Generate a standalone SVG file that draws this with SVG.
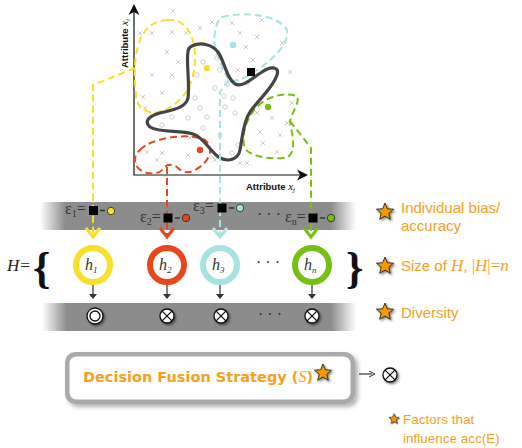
<svg xmlns="http://www.w3.org/2000/svg" width="522" height="448" viewBox="0 0 522 448">
<defs>
<style>
.ax{stroke:#111;stroke-width:1.2;fill:none}
.sc{stroke:#c8c8c8;stroke-width:0.9;fill:none}
.blob{fill:none;stroke-width:2;stroke-dasharray:7 4}
.con{fill:none;stroke-width:2;stroke-dasharray:7 4}
.chev{fill:none;stroke-width:3;stroke-linecap:butt;stroke-linejoin:miter}
.ring{fill:#fff;stroke-width:6}
.hl{font-family:"Liberation Serif",serif;font-style:italic;font-size:16px;fill:#333}
.eps{font-family:"Liberation Serif",serif;font-size:16px;fill:#333}
.lab{font-family:"Liberation Sans",Arial,sans-serif;font-size:15px;fill:#f7a01e}
.ser{font-family:"Liberation Serif",serif;font-style:italic}
.sm{stroke:#333;stroke-width:1.2;fill:none}
.ox{fill:#fff;stroke:#111;stroke-width:1.3}
.star{fill:#f79a00;stroke:#222;stroke-width:0.9;stroke-linejoin:round}
</style>
<symbol id="x" overflow="visible"><path class="sc" d="M-2.2,-2.2 L2.2,2.2 M2.2,-2.2 L-2.2,2.2"/></symbol>
<symbol id="o" overflow="visible"><circle class="sc" r="2.2"/></symbol>
<path id="starp" d="M0,-9 L2.35,-3.24 L8.56,-2.78 L3.80,1.24 L5.29,7.28 L0,4 L-5.29,7.28 L-3.80,1.24 L-8.56,-2.78 L-2.35,-3.24 Z"/>
<filter id="sh" x="-50%" y="-50%" width="200%" height="200%"><feDropShadow dx="1.5" dy="1.5" stdDeviation="1" flood-color="#000" flood-opacity="0.5"/></filter>
<filter id="bsh" x="-10%" y="-20%" width="120%" height="150%"><feDropShadow dx="3" dy="3" stdDeviation="2" flood-color="#000" flood-opacity="0.3"/></filter>
<linearGradient id="band" x1="0" x2="1" y1="0" y2="0">
<stop offset="0" stop-color="#8c8c8c" stop-opacity="0"/>
<stop offset="0.08" stop-color="#8c8c8c"/>
<stop offset="0.92" stop-color="#8c8c8c"/>
<stop offset="1" stop-color="#8c8c8c" stop-opacity="0"/>
</linearGradient>
<symbol id="otimes" overflow="visible"><circle class="ox" r="7"/><path d="M-4.9,-4.9 L4.9,4.9 M4.9,-4.9 L-4.9,4.9" stroke="#111" stroke-width="1.3"/></symbol>
</defs>

<g id="bands">
<rect x="40" y="202" width="316" height="28" fill="url(#band)"/>
<rect x="42" y="303" width="314" height="28" fill="url(#band)"/>
</g>

<g id="scatter">
<use href="#x" x="173" y="11"/><use href="#x" x="140" y="33"/><use href="#x" x="152" y="33"/>
<use href="#x" x="172" y="32"/><use href="#x" x="167" y="52"/><use href="#x" x="178" y="62"/>
<use href="#x" x="152" y="75"/><use href="#x" x="172" y="75"/><use href="#x" x="143" y="97"/>
<use href="#x" x="162" y="93"/><use href="#x" x="145" y="108"/><use href="#x" x="200" y="28"/>
<use href="#x" x="232" y="23"/><use href="#x" x="240" y="33"/><use href="#x" x="262" y="20"/>
<use href="#x" x="257" y="37"/><use href="#x" x="282" y="43"/><use href="#x" x="246" y="47"/>
<use href="#x" x="253" y="60"/><use href="#x" x="238" y="70"/><use href="#x" x="290" y="72"/>
<use href="#x" x="292" y="103"/><use href="#x" x="257" y="113"/><use href="#x" x="272" y="118"/>
<use href="#x" x="287" y="123"/><use href="#x" x="260" y="132"/><use href="#x" x="280" y="135"/>
<use href="#x" x="263" y="143"/><use href="#x" x="277" y="152"/><use href="#x" x="147" y="152"/>
<use href="#x" x="162" y="153"/><use href="#x" x="157" y="160"/><use href="#x" x="188" y="155"/>
<use href="#x" x="190" y="138"/><use href="#x" x="215" y="160"/><use href="#x" x="240" y="163"/>
<use href="#x" x="247" y="163"/><use href="#x" x="212" y="22"/><use href="#x" x="186" y="33"/>
<use href="#o" x="203" y="62"/><use href="#o" x="197" y="75"/><use href="#o" x="217" y="58"/>
<use href="#o" x="220" y="70"/><use href="#o" x="215" y="88"/><use href="#o" x="227" y="84"/>
<use href="#o" x="247" y="83"/><use href="#o" x="195" y="98"/><use href="#o" x="225" y="107"/>
<use href="#o" x="233" y="98"/><use href="#o" x="235" y="113"/><use href="#o" x="200" y="108"/>
<use href="#o" x="172" y="117"/><use href="#o" x="162" y="125"/><use href="#o" x="188" y="118"/>
<use href="#o" x="207" y="117"/><use href="#o" x="203" y="128"/><use href="#o" x="220" y="135"/>
<use href="#o" x="238" y="145"/><use href="#o" x="232" y="153"/><use href="#o" x="224" y="96"/>
</g>

<g id="axes">
<path class="ax" d="M134,8 L134,175 L303,175"/>
<path d="M134,4 L139.5,15 L134,12 L128.5,15 Z" fill="#111"/>
<path d="M308,175 L297,169.5 L300,175 L297,180.5 Z" fill="#111"/>
<text transform="translate(128,68) rotate(-90)" font-family="Liberation Sans,Arial,sans-serif" font-weight="bold" font-size="9.5" fill="#111">Attribute <tspan class="ser" font-weight="normal" font-size="11">x</tspan><tspan class="ser" font-weight="normal" font-size="7" dy="2">i</tspan></text>
<text x="246" y="190" font-family="Liberation Sans,Arial,sans-serif" font-weight="bold" font-size="9.5" fill="#111">Attribute <tspan class="ser" font-weight="normal" font-size="11">x</tspan><tspan class="ser" font-weight="normal" font-size="7" dy="2">j</tspan></text>
</g>

<g id="regions">
<path class="blob" stroke="#f8df2a" d="M167,20 C185,18 196,35 195,60 C194,85 184,101 165,110 C148,117 136,108 136,95 C134,75 134,55 140,40 C146,26 155,21 167,20 Z"/>
<circle cx="207" cy="68" r="3.2" fill="#f8df2a"/>
<path class="blob" stroke="#a6e2e2" d="M222,17 C240,12 277,13 287,30 C290,45 270,62 250,75 C240,80 233,82 229,80 C220,65 212,45 215,32 C216,25 218,20 222,17 Z"/>
<circle cx="233" cy="45" r="3.2" fill="#a6e2e2"/>
<path class="blob" stroke="#e8461c" d="M140,150 C150,138 190,132 205,140 C215,148 210,162 195,170 C188,174 182,172 178,168 C174,164 166,163 162,170 C158,175 145,175 138,168 C133,162 134,155 140,150 Z"/>
<circle cx="200" cy="150" r="3.2" fill="#e8461c"/>
<path class="blob" stroke="#76bf14" d="M258,106 C268,96 285,92 297,96 C300,102 293,110 290,121 C292,135 297,150 288,157 C275,160 255,158 246,150 C240,140 245,118 258,106 Z"/>
<circle cx="268" cy="107" r="3.2" fill="#76bf14"/>
<path fill="none" stroke="#444" stroke-width="3.2" stroke-linejoin="round" d="M192,46 C200,42 212,44 218,52 C225,62 226,78 235,84 C243,88 252,78 262,72 C270,66 280,66 277,75 C273,88 258,100 250,112 C243,122 242,140 240,150 C238,160 228,162 220,158 C210,152 205,138 193,134 C180,130 160,133 150,127 C144,122 148,116 160,113 C172,110 186,108 188,98 C190,85 186,60 188,52 C188,48 190,47 192,46 Z"/>
<rect x="247" y="68" width="8" height="8" fill="#000"/>
</g>

<g id="connectors">
<path class="con" stroke="#f8df2a" d="M135,68 L93,85 L93,236"/>
<path class="chev" stroke="#f8df2a" d="M86,228 L93,237 L100,228"/>
<path class="con" stroke="#e8461c" d="M167,167 L167,236"/>
<path class="chev" stroke="#e8461c" d="M160,228 L167,237 L174,228"/>
<path class="con" stroke="#a6e2e2" d="M229,80 L220,92 L220,236"/>
<path class="chev" stroke="#a6e2e2" d="M213,228 L220,237 L227,228"/>
<path class="con" stroke="#76bf14" d="M290,121 L311,148 L311,236"/>
<path class="chev" stroke="#76bf14" d="M304,228 L311,237 L318,228"/>
<path class="sm" d="M93,285 L93,296 M167,285 L167,296 M220,285 L220,296 M312,285 L312,296"/>
<path d="M89,294 L93,299 L97,294 Z M163,294 L167,299 L171,294 Z M216,294 L220,299 L224,294 Z M308,294 L312,299 L316,294 Z" fill="#333"/>
<path class="sm" d="M359,374 L372,374"/>
<path d="M369,371 L375,374 L369,377" fill="none" stroke="#333" stroke-width="1"/>
</g>

<g id="errors">
<text class="eps" x="65" y="214">ε<tspan font-size="10" dy="3">1</tspan><tspan dy="-3">=</tspan></text>
<rect x="89" y="206" width="9" height="9" fill="#000"/><path d="M100,210.5 H105" stroke="#333" stroke-width="1.5"/>
<circle cx="111" cy="211" r="3.7" fill="#f8df2a" stroke="#222" stroke-width="0.8"/>
<text class="eps" x="140" y="222">ε<tspan font-size="10" dy="3">2</tspan><tspan dy="-3">=</tspan></text>
<rect x="163.5" y="213.5" width="9" height="9" fill="#000"/><path d="M175,218 H180" stroke="#333" stroke-width="1.5"/>
<circle cx="186" cy="218" r="3.7" fill="#e8461c" stroke="#222" stroke-width="0.8"/>
<text class="eps" x="193" y="211">ε<tspan font-size="10" dy="3">3</tspan><tspan dy="-3">=</tspan></text>
<rect x="217.5" y="203.5" width="9" height="9" fill="#000"/><path d="M229,208 H234" stroke="#333" stroke-width="1.5"/>
<circle cx="240" cy="208" r="3.7" fill="#a6e2e2" stroke="#222" stroke-width="0.8"/>
<text class="eps" x="257" y="220">· · ·</text>
<text class="eps" x="285" y="222">ε<tspan font-size="10" dy="3">n</tspan><tspan dy="-3">=</tspan></text>
<rect x="308.5" y="213.5" width="9" height="9" fill="#000"/><path d="M320,218 H325" stroke="#333" stroke-width="1.5"/>
<circle cx="331" cy="218" r="3.7" fill="#76bf14" stroke="#222" stroke-width="0.8"/>
</g>

<g id="ensemble">
<text x="7" y="271" font-family="Liberation Serif,serif" font-style="italic" font-size="17" fill="#222">H=</text>
<text x="33" y="283" font-family="Liberation Serif,serif" font-weight="bold" font-size="44" fill="#111">{</text>
<text x="346" y="283" font-family="Liberation Serif,serif" font-weight="bold" font-size="44" fill="#111">}</text>
<text class="eps" x="256" y="268">· · ·</text>
</g>
<g id="h1"><circle class="ring" stroke="#f8df2a" cx="93" cy="265" r="17"/><text class="hl" x="85" y="270">h<tspan font-size="9" dy="3">1</tspan></text></g>
<g id="h2"><circle class="ring" stroke="#e8461c" cx="167" cy="265" r="17"/><text class="hl" x="159" y="270">h<tspan font-size="9" dy="3">2</tspan></text></g>
<g id="h3"><circle class="ring" stroke="#a6e2e2" cx="220" cy="265" r="17"/><text class="hl" x="212" y="270">h<tspan font-size="9" dy="3">3</tspan></text></g>
<g id="hn"><circle class="ring" stroke="#76bf14" cx="312" cy="265" r="17"/><text class="hl" x="304" y="270">h<tspan font-size="9" dy="3">n</tspan></text></g>

<g id="diversity">
<g filter="url(#sh)"><circle class="ox" cx="95" cy="316" r="8"/><circle cx="95" cy="316" r="5" fill="none" stroke="#111" stroke-width="1.3"/></g>
<use href="#otimes" x="167" y="316" filter="url(#sh)"/>
<use href="#otimes" x="221" y="316" filter="url(#sh)"/>
<use href="#otimes" x="312" y="316" filter="url(#sh)"/>
<text class="eps" x="258" y="320" fill="#222">· · ·</text>
</g>

<g id="fusion">
<rect x="65" y="352" width="290" height="52" rx="10" fill="#aaa" filter="url(#bsh)"/>
<rect x="69.5" y="356.5" width="281" height="43" rx="7" fill="#fff"/>
<text x="83" y="382" font-family="DejaVu Sans,Verdana,sans-serif" font-weight="bold" font-size="14.5" fill="#f7a01e">Decision Fusion Strategy (<tspan font-family="Liberation Serif,serif" font-style="italic" font-weight="normal" font-size="16">S</tspan>)</text>
<use href="#starp" class="star" transform="translate(323,373)" filter="url(#sh)"/>
<use href="#otimes" x="390" y="375" filter="url(#sh)"/>
</g>

<g id="factors">
<use href="#starp" class="star" transform="translate(385,212)" filter="url(#sh)"/>
<text class="lab" x="401" y="213">Individual bias/</text>
<text class="lab" x="401" y="231">accuracy</text>
<use href="#starp" class="star" transform="translate(385,266)" filter="url(#sh)"/>
<text class="lab" x="401" y="271" font-size="16">Size of <tspan class="ser" font-size="17">H</tspan>, <tspan font-family="Liberation Serif,serif" font-size="17">|<tspan font-style="italic">H</tspan>|=<tspan font-style="italic">n</tspan></tspan></text>
<use href="#starp" class="star" transform="translate(385,312)" filter="url(#sh)"/>
<text class="lab" x="401" y="318" font-size="16">Diversity</text>
<use href="#starp" class="star" transform="translate(394,419) scale(0.6)" filter="url(#sh)"/>
<text x="403" y="424" font-family="Liberation Sans,Arial,sans-serif" font-size="13.5" fill="#f7a01e">Factors that</text>
<text x="403" y="443" font-family="Liberation Sans,Arial,sans-serif" font-size="13.5" fill="#f7a01e">influence acc(E)</text>
</g>
</svg>
